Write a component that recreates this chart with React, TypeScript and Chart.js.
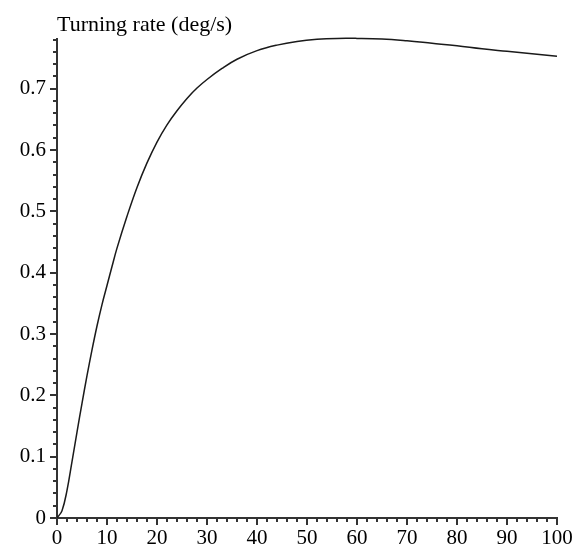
import React, { useEffect, useRef } from "react";
import { Chart, registerables } from "chart.js";

Chart.register(...registerables);

const TITLE = "Turning rate (deg/s)";
const X_VALUES = [0, 1, 2, 3, 4, 5, 6, 7, 8, 9, 10, 11, 12, 14, 16, 18, 20, 22, 24, 26, 28, 30, 33, 36, 40, 44, 48, 52, 56, 60, 65, 70, 75, 80, 85, 90, 95, 100];
const Y_VALUES = [0, 0.012, 0.045, 0.092, 0.14, 0.187, 0.232, 0.274, 0.313, 0.348, 0.379, 0.41, 0.44, 0.492, 0.539, 0.579, 0.613, 0.641, 0.664, 0.684, 0.701, 0.715, 0.733, 0.748, 0.762, 0.771, 0.777, 0.7805, 0.782, 0.782, 0.781, 0.778, 0.774, 0.77, 0.765, 0.761, 0.757, 0.753];
const X_MIN = 0;
const X_MAX = 100;
const X_MAJOR = 10;
const X_MINOR = 2;
const Y_MIN = 0;
const Y_MAX = 0.781;
const Y_MAJOR = 0.1;
const Y_MINOR = 0.02;

const FONT_FAMILY = '"Liberation Serif", "Times New Roman", serif';
const FONT_SIZE = 21;
const TITLE_SIZE = 22;

const tickPlugin = {
  id: "mapleTicks",
  afterDraw(chart: any) {
    const { ctx, chartArea } = chart;
    const xs = chart.scales.x;
    const ys = chart.scales.y;
    ctx.save();
    ctx.strokeStyle = "#333";
    ctx.lineWidth = 2;
    ctx.beginPath();
    const nY = Math.floor((Y_MAX - Y_MIN) / Y_MINOR + 1e-6);
    for (let i = 0; i <= nY; i++) {
      const v = Y_MIN + i * Y_MINOR;
      const major = i % Math.round(Y_MAJOR / Y_MINOR) === 0;
      const len = major ? 7 : 4;
      const py = Math.round(ys.getPixelForValue(v));
      ctx.moveTo(chartArea.left - len, py);
      ctx.lineTo(chartArea.left, py);
    }
    const nX = Math.round((X_MAX - X_MIN) / X_MINOR);
    for (let i = 0; i <= nX; i++) {
      const v = X_MIN + i * X_MINOR;
      const major = i % Math.round(X_MAJOR / X_MINOR) === 0;
      const len = major ? 7 : 4;
      const px = Math.round(xs.getPixelForValue(v));
      ctx.moveTo(px, chartArea.bottom);
      ctx.lineTo(px, chartArea.bottom + len);
    }
    ctx.stroke();
    ctx.fillStyle = "#000";
    ctx.font = `${TITLE_SIZE}px ${FONT_FAMILY}`;
    ctx.textAlign = "left";
    ctx.textBaseline = "alphabetic";
    ctx.fillText(TITLE, chartArea.left, 31);
    ctx.restore();
  },
};

export default function App() {
  const ref = useRef<HTMLCanvasElement | null>(null);
  useEffect(() => {
    if (!ref.current) return;
    const chart = new Chart(ref.current, {
      type: "line",
      data: {
        datasets: [
          {
            data: X_VALUES.map((x, i) => ({ x, y: Y_VALUES[i] })),
            borderColor: "#1a1a1a",
            borderWidth: 1.5,
            pointRadius: 0,
            fill: false,
            tension: 0.4,
            clip: false,
          },
        ],
      },
      options: {
        animation: false,
        responsive: false,
        devicePixelRatio: 1,
        layout: { padding: { top: 39, right: 17, left: 0, bottom: 0 } },
        plugins: { legend: { display: false }, tooltip: { enabled: false }, title: { display: false } },
        scales: {
          x: {
            type: "linear",
            min: X_MIN,
            max: X_MAX,
            grid: { display: false, drawTicks: false },
            border: { display: true, color: "#333", width: 2 },
            ticks: {
              stepSize: X_MAJOR,
              includeBounds: false,
              maxRotation: 0,
              autoSkip: false,
              padding: 8,
              color: "#000",
              font: { family: FONT_FAMILY, size: FONT_SIZE },
            },
            afterFit(scale: any) {
              scale.height = 33;
              scale.paddingLeft = 0;
              scale.paddingRight = 0;
            },
          },
          y: {
            type: "linear",
            min: Y_MIN,
            max: Y_MAX,
            grid: { display: false, drawTicks: false },
            border: { display: true, color: "#333", width: 2 },
            ticks: {
              stepSize: Y_MAJOR,
              includeBounds: false,
              autoSkip: false,
              padding: 11,
              color: "#000",
              font: { family: FONT_FAMILY, size: FONT_SIZE },
              callback: (v: any) => (Number(v) === 0 ? "0" : Number(v).toFixed(1)),
            },
            afterFit(scale: any) {
              scale.width = 57;
              scale.paddingTop = 0;
              scale.paddingBottom = 0;
            },
          },
        },
      },
      plugins: [tickPlugin],
    } as any);
    return () => chart.destroy();
  }, []);
  return (
    <div style={{ position: "fixed", left: 0, top: 0, width: 574, height: 551, background: "#fff" }}>
      <canvas ref={ref} width={574} height={551} style={{ display: "block" }} />
    </div>
  );
}
